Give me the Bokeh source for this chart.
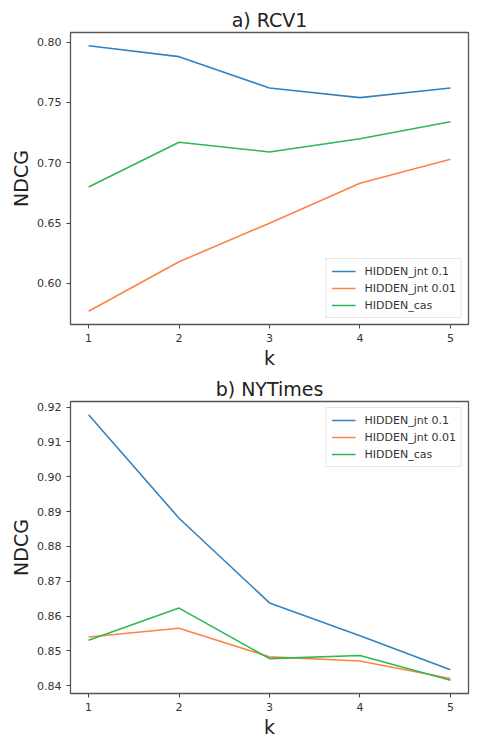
from bokeh.plotting import figure
from bokeh.layouts import column
from bokeh.models import Range1d, FixedTicker, Legend, LegendItem, PrintfTickFormatter
from bokeh.embed import file_html
from bokeh.resources import INLINE

k = [1, 2, 3, 4, 5]
series_names = ["HIDDEN_jnt 0.1", "HIDDEN_jnt 0.01", "HIDDEN_cas"]
colors = ["#3382c0", "#ff8247", "#2fb850"]

rcv1_jnt01 = [0.797, 0.788, 0.762, 0.754, 0.762]
rcv1_jnt001 = [0.577, 0.618, 0.650, 0.683, 0.703]
rcv1_cas = [0.680, 0.717, 0.709, 0.720, 0.734]

nyt_jnt01 = [0.9178, 0.8881, 0.8638, 0.8544, 0.8446]
nyt_jnt001 = [0.8540, 0.8565, 0.8483, 0.8471, 0.8421]
nyt_cas = [0.8531, 0.8623, 0.8478, 0.8487, 0.8416]

rcv1_yticks = [0.60, 0.65, 0.70, 0.75, 0.80]
nyt_yticks = [0.84, 0.85, 0.86, 0.87, 0.88, 0.89, 0.90, 0.91, 0.92]

FONT = "DejaVu Sans"


def make_plot(title, data, yticks, legend_loc, top_border, bottom_border):
    allv = [v for s in data for v in s]
    lo, hi = min(allv), max(allv)
    m = (hi - lo) * 0.05
    p = figure(frame_width=398, frame_height=292, output_backend="svg", toolbar_location=None,
               x_range=Range1d(0.8, 5.2), y_range=Range1d(lo - m, hi + m),
               min_border_left=70, min_border_right=10, min_border_top=top_border,
               min_border_bottom=bottom_border)
    p.title.text = title
    p.title.align = "center"
    p.title.text_font = FONT
    p.title.text_font_size = "19px"
    p.title.text_font_style = "normal"
    p.title.text_color = "#222222"
    p.title.standoff = 4
    p.grid.visible = False
    p.outline_line_color = "#555555"
    p.outline_line_width = 1.3
    p.background_fill_color = "white"
    p.border_fill_color = "white"

    p.xaxis.ticker = FixedTicker(ticks=k)
    p.yaxis.ticker = FixedTicker(ticks=yticks)
    p.yaxis.formatter = PrintfTickFormatter(format="%.2f")
    for ax in (p.xaxis, p.yaxis):
        ax.axis_line_color = None
        ax.major_tick_line_color = "#444444"
        ax.minor_tick_line_color = None
        ax.major_tick_out = 4
        ax.major_tick_in = 0
        ax.major_label_text_font = FONT
        ax.major_label_text_font_size = "11px"
        ax.major_label_text_color = "#333333"
        ax.axis_label_text_font = FONT
        ax.axis_label_text_font_size = "19px"
        ax.axis_label_text_font_style = "normal"
        ax.axis_label_text_color = "#222222"
    p.xaxis.axis_label = "k"
    p.yaxis.axis_label = "NDCG"
    p.xaxis.axis_label_standoff = 2
    p.yaxis.axis_label_standoff = 2

    items = []
    for name, vals, c in zip(series_names, data, colors):
        r = p.line(k, vals, line_color=c, line_width=1.6)
        items.append(LegendItem(label=name, renderers=[r]))
    leg = Legend(items=items, location=legend_loc)
    leg.label_text_font = FONT
    leg.label_text_font_size = "11px"
    leg.label_text_color = "#333333"
    leg.glyph_width = 24
    leg.glyph_height = 14
    leg.label_height = 14
    leg.spacing = 3
    leg.padding = 5
    leg.margin = 6
    leg.label_standoff = 9
    leg.border_line_color = "#cccccc"
    leg.border_line_width = 1
    leg.background_fill_alpha = 0.8
    p.add_layout(leg, "center")
    return p


p1 = make_plot("a) RCV1", [rcv1_jnt01, rcv1_jnt001, rcv1_cas], rcv1_yticks,
               "bottom_right", 32, 40)
p2 = make_plot("b) NYTimes", [nyt_jnt01, nyt_jnt001, nyt_cas], nyt_yticks,
               "top_right", 30, 34)

layout = column(p1, p2, spacing=0)
open("out.html", "w").write(file_html(layout, INLINE))
